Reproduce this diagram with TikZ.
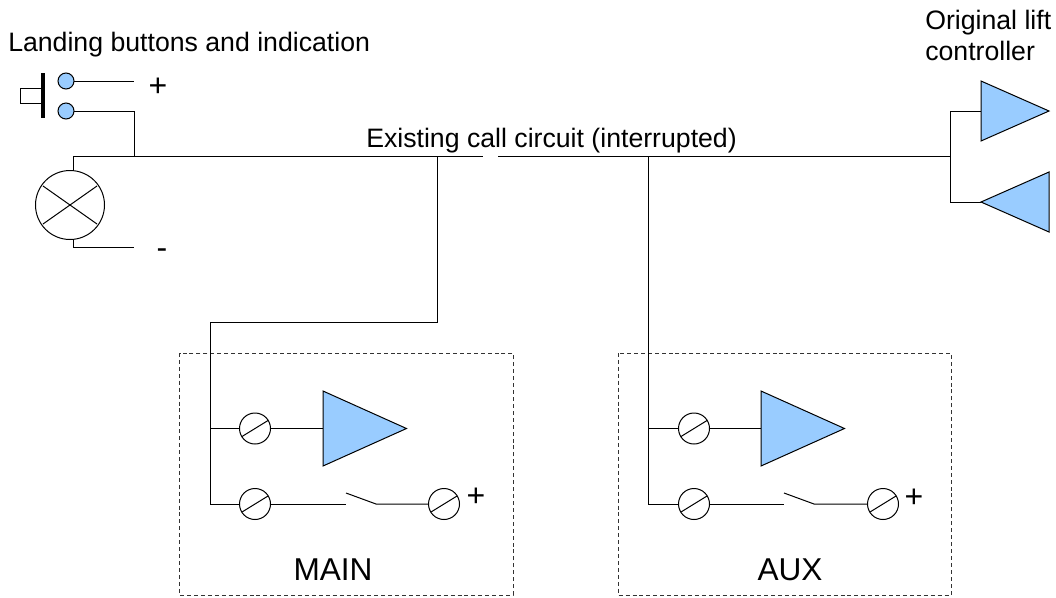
\documentclass[tikz,border=0pt]{standalone}
\usepackage{fontspec}
\setmainfont{Liberation Sans}
\definecolor{ampblue}{HTML}{99CCFF}
\tikzset{
  x=0.75pt,y=-0.75pt,
  wire/.style={draw=black,line width=0.75pt},
  label text/.style={inner sep=0pt,font=\fontsize{20pt}{24pt}\selectfont,text=black},
  box label/.style={inner sep=0pt,font=\fontsize{23.7pt}{28pt}\selectfont,text=black},
  sign/.style={inner sep=0pt,font=\fontsize{24pt}{28pt}\selectfont,text=black},
  terminal/.style={circle,draw=black,fill=white,line width=0.75pt,minimum size=23.25pt,inner sep=0pt,outer sep=0pt},
  contact/.style={circle,draw=black,fill=ampblue,line width=0.75pt,minimum size=12pt,inner sep=0pt,outer sep=0pt},
  lamp/.style={circle,draw=black,fill=white,line width=0.75pt,minimum size=51.75pt,inner sep=0pt,outer sep=0pt},
  amp/.style={draw=black,fill=ampblue,line width=0.75pt,line join=miter},
  frame/.style={draw=black!80,dashed,dash pattern=on 3pt off 2.2pt,line width=0.6pt}
}
\newcommand{\slashin}[1]{\draw[wire] (#1.center)++(-13,8) -- ++(26,-16);}
\begin{document}
\begin{tikzpicture}
\useasboundingbox (0,0) rectangle (1056,597);
% frames
\draw[frame] (179.5,353) rectangle (513,595);
\draw[frame] (618,353) rectangle (951,595);
% labels
\node[label text,anchor=base west] (landing) at (8,51) {Landing buttons and indication};
\node[label text,anchor=base west] (existing) at (366,147) {Existing call circuit (interrupted)};
\node[label text,anchor=base west] (orig) at (925,29) {Original lift};
\node[label text,anchor=base west] (contr) at (925,60) {controller};
\node[sign] (plustop) at (158,87) {+};
\node[sign] (minus) at (162,254) {-};
\node[box label,anchor=base] (mainl) at (333,580) {MAIN};
\node[box label,anchor=base] (auxl) at (790,580) {AUX};
\node[sign] (plusm) at (476,497) {+};
\node[sign] (plusa) at (914,498) {+};
% junctions
\coordinate (c1end) at (134,80.5);
\coordinate (c2end) at (134,111);
\coordinate (bus2) at (134,156);
\coordinate (busl) at (73,156);
\coordinate (gapl) at (483,156);
\coordinate (gapr) at (498,156);
\coordinate (busr) at (950,156);
\coordinate (tap1) at (437,156);
\coordinate (tap1b) at (437,322);
\coordinate (m0) at (210,322);
\coordinate (m1) at (210,428.5);
\coordinate (m2) at (210,504);
\coordinate (a0) at (648,156);
\coordinate (a1) at (648,428.5);
\coordinate (a2) at (648,504);
\coordinate (lt) at (73,171);
\coordinate (lb) at (73,239);
\coordinate (lb1) at (73,247);
\coordinate (lb2) at (134,247);
\coordinate (ru) at (950,111);
\coordinate (rd) at (950,202);
% wires
\draw[wire] (busl) -- (gapl);
\draw[wire] (gapr) -- (busr);
\draw[wire] (busl) -- (lt);
\draw[wire] (lb) -- (lb1) -- (lb2);
\draw[wire] (c2end) -- (bus2);
\draw[wire] (tap1) -- (tap1b) -- (m0) -- (m2);
\draw[wire] (a0) -- (a2);
\draw[wire] (ru) -- (rd);
% push button
\coordinate (barT) at (43,73);
\coordinate (barB) at (43,118);
\draw[draw=black,line width=3pt] (barT) -- (barB);
\draw[wire] (43,88) -- (20.5,88) -- (20.5,103) -- (43,103);
\node[contact] (k1) at (66,81) {};
\node[contact] (k2) at (66,111) {};
\draw[wire] (k1.east) -- (k1.east -| c1end);
\draw[wire] (k2.east) -- (c2end);
% lamp
\node[lamp] (lp) at (70,205) {};
\draw[wire] (lp.center)++(-27,-19) -- ++(54,38);
\draw[wire] (lp.center)++(-27,19) -- ++(54,-38);
% right amps
\draw[amp] (981,81) coordinate (ra1) -- (1049,111) -- (981,141) -- cycle;
\draw[amp] (981,202) coordinate (ra2) -- (1049,172) -- (1049,232) -- cycle;
\coordinate (ra1in) at (981,111);
\draw[wire] (ru) -- (ra1in);
\draw[wire] (rd) -- (ra2);
% MAIN block
\draw[amp] (323,391) -- (406.5,428.5) -- (323,466) -- cycle;
\coordinate (mamp) at (323,428.5);
\node[terminal] (mt1) at (255,428.5) {};
\node[terminal] (mt2) at (255,504) {};
\node[terminal] (mt3) at (444,504) {};
\slashin{mt1}\slashin{mt2}\slashin{mt3}
\draw[wire] (m1) -- (mt1);
\draw[wire] (mt1) -- (mamp);
\draw[wire] (m2) -- (mt2);
\coordinate (msa) at (346,504);
\coordinate (msb) at (346,493);
\coordinate (msc) at (376,504);
\draw[wire] (mt2) -- (msa);
\draw[wire] (msb) -- (msc) -- (mt3);
% AUX block
\draw[amp] (761,391) -- (844.5,428.5) -- (761,466) -- cycle;
\coordinate (aamp) at (761,428.5);
\node[terminal] (at1) at (694,428.5) {};
\node[terminal] (at2) at (694,504) {};
\node[terminal] (at3) at (883,504) {};
\slashin{at1}\slashin{at2}\slashin{at3}
\draw[wire] (a1) -- (at1);
\draw[wire] (at1) -- (aamp);
\draw[wire] (a2) -- (at2);
\coordinate (asa) at (784,504);
\coordinate (asb) at (784,493);
\coordinate (asc) at (814,504);
\draw[wire] (at2) -- (asa);
\draw[wire] (asb) -- (asc) -- (at3);
\end{tikzpicture}
\end{document}
